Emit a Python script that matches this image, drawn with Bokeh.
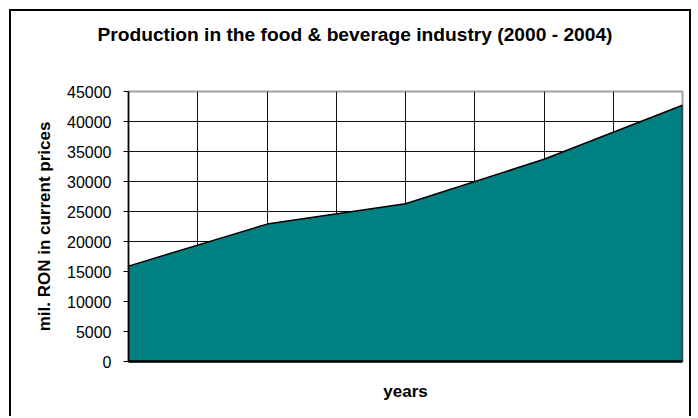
from bokeh.plotting import figure
from bokeh.models import Range1d, FixedTicker, Title
from bokeh.embed import file_html
from bokeh.resources import INLINE

# data
years = [2000, 2001, 2002, 2003, 2004]
production = [15900, 22900, 26300, 33700, 42700]
y_ticks = [0, 5000, 10000, 15000, 20000, 25000, 30000, 35000, 40000, 45000]
title_text = "Production in the food & beverage industry (2000 - 2004)"
y_title = "mil. RON in current prices"
x_title = "years"

FONT = "Liberation Sans"

p = figure(width=682, height=407, output_backend="svg", toolbar_location=None,
           x_range=Range1d(years[0], years[-1]), y_range=Range1d(0, 45000),
           min_border_left=117, min_border_right=11, min_border_top=80, min_border_bottom=57)
p.styles = {"border": "2px solid black", "border-bottom": "none",
            "margin-left": "9px", "margin-top": "9px"}
p.background_fill_color = "white"
p.border_fill_color = "white"
p.outline_line_color = "#a0a0a0"
p.outline_line_width = 2

# spacer between plot area and title
p.add_layout(Title(text=" ", text_font_size="19px", standoff=19, text_color="white"), "above")

# title
p.title.text = title_text
p.title.align = "left"
p.title.offset = -31
p.title.standoff = 10
p.title.text_font = FONT
p.title.text_font_style = "bold"
p.title.text_font_size = "19.2px"
p.title.text_color = "black"

# grids
p.xgrid.ticker = FixedTicker(ticks=[years[0] + 0.5 * i for i in range(1, 8)])
p.xgrid.grid_line_color = "#111111"
p.xgrid.grid_line_width = 1
p.ygrid.ticker = FixedTicker(ticks=y_ticks)
p.ygrid.grid_line_color = "#111111"
p.ygrid.grid_line_width = 1

# area
px = [years[0]] + years + [years[-1]]
py = [0] + production + [0]
p.patch(px, py, fill_color="#008080", line_color="black", line_width=1.5)

# y axis
ya = p.yaxis[0]
ya.ticker = FixedTicker(ticks=y_ticks)
ya.axis_line_color = "black"
ya.axis_line_width = 1.5
ya.major_tick_in = 0
ya.major_tick_out = 5
ya.major_tick_line_color = "black"
ya.minor_tick_line_color = None
ya.major_label_standoff = 12
ya.major_label_text_font = FONT
ya.major_label_text_font_size = "16px"
ya.major_label_text_color = "black"
ya.axis_label = y_title
ya.axis_label_text_font = FONT
ya.axis_label_text_font_style = "bold"
ya.axis_label_text_font_size = "17px"
ya.axis_label_text_color = "black"
ya.axis_label_standoff = 10

# x axis
xa = p.xaxis[0]
xa.ticker = FixedTicker(ticks=[])
xa.axis_line_color = "black"
xa.axis_line_width = 2.5
xa.major_tick_line_color = None
xa.minor_tick_line_color = None
xa.major_label_text_font_size = "0px"
xa.axis_label = x_title
xa.axis_label_text_font = FONT
xa.axis_label_text_font_style = "bold"
xa.axis_label_text_font_size = "17px"
xa.axis_label_text_color = "black"
xa.axis_label_standoff = 20

open("out.html", "w").write(file_html(p, INLINE))
